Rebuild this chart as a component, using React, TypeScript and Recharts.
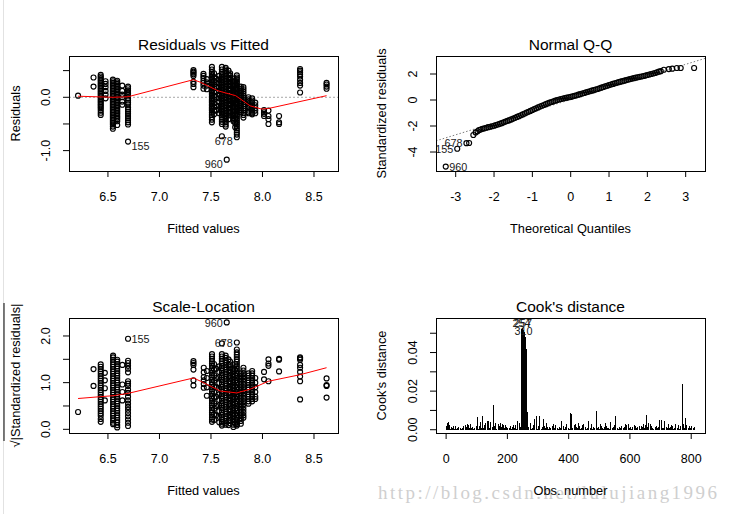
import React from "react";
import { Bar, ComposedChart, ReferenceLine, Scatter, XAxis, YAxis } from "recharts";

// ---- Residuals vs Fitted: one column of residuals per fitted value ----
const rvfFitted = [6.21, 6.36, 6.43, 6.477, 6.548, 6.59, 6.639, 6.695, 7.33, 7.427, 7.46, 7.509, 7.55, 7.606, 7.643, 7.686, 7.718, 7.751, 7.79, 7.815, 7.864, 7.9, 7.93, 8.015, 8.058, 8.161, 8.365, 8.622, 7.53, 7.58, 7.67, 7.735];
const rvfResid = [
  [0.03],
  [0.37, 0.2],
  [0.42, 0.39, 0.36, 0.33, 0.3, 0.27, 0.24, 0.21, 0.18, 0.15, 0.12, 0.09, 0.06, 0.03, 0, -0.03, -0.06, -0.09, -0.12, -0.15, -0.18, -0.21, -0.25, -0.29, -0.33],
  [0.3, 0.25, 0.19, 0.12, 0.05, -0.02],
  [0.33, 0.3, 0.27, 0.24, 0.21, 0.18, 0.15, 0.12, 0.09, 0.06, 0.03, 0, -0.03, -0.06, -0.09, -0.12, -0.15, -0.18, -0.21, -0.24, -0.27, -0.3, -0.33, -0.36, -0.39, -0.42, -0.45, -0.48, -0.51, -0.55, -0.59],
  [0.31, 0.28, 0.25, 0.22, 0.19, 0.16, 0.13, 0.1, 0.07, 0.04, 0.01, -0.02, -0.05, -0.08, -0.11, -0.14, -0.17, -0.2, -0.23, -0.26, -0.29, -0.32, -0.35, -0.38, -0.41, -0.45, -0.52],
  [0.22, 0.12, 0.05, 0, -0.08, -0.14],
  [0.2, 0.17, 0.13, 0.1, 0.07, 0.04, -0.02, -0.06, -0.1, -0.13, -0.19, -0.23, -0.27, -0.31, -0.35, -0.39, -0.43, -0.47, -0.51],
  [0.51, 0.48, 0.46, 0.43, 0.4, 0.29, 0.25, 0.19],
  [0.44, 0.4, 0.36, 0.31, 0.27, 0.22, 0.16],
  [0.34, 0.28, 0.22, 0.15],
  [0.57, 0.52, 0.47, 0.44, 0.41, 0.38, 0.35, 0.32, 0.29, 0.26, 0.23, 0.2, 0.17, 0.14, 0.11, 0.08, 0.05, 0.02, -0.01, -0.04, -0.07, -0.1, -0.13, -0.16, -0.19, -0.22, -0.25, -0.29, -0.33, -0.37, -0.42, -0.47],
  [0.35, 0.28, 0.2, 0.1, 0, -0.15, -0.25],
  [0.57, 0.52, 0.47, 0.44, 0.41, 0.38, 0.35, 0.32, 0.29, 0.26, 0.23, 0.2, 0.17, 0.14, 0.11, 0.08, 0.05, 0.02, -0.01, -0.04, -0.07, -0.1, -0.13, -0.16, -0.19, -0.22, -0.25, -0.28, -0.31, -0.34, -0.38, -0.42, -0.46, -0.5, -0.73],
  [0.55, 0.52, 0.49, 0.46, 0.43, 0.4, 0.37, 0.34, 0.31, 0.28, 0.25, 0.22, 0.19, 0.16, 0.13, 0.1, 0.07, 0.04, 0.01, -0.02, -0.05, -0.08, -0.11, -0.14, -0.17, -0.2, -0.23, -0.26, -0.29, -0.32, -0.35, -0.38, -0.41, -0.44, -0.47, -0.51, -0.55],
  [0.45, 0.41, 0.37, 0.33, 0.29, 0.25, 0.21, 0.17, 0.13, 0.09, 0.05, 0.01, -0.03, -0.07, -0.11, -0.15, -0.19, -0.23, -0.27, -0.3],
  [0.35, 0.31, 0.28, 0.24, 0.21, 0.17, 0.14, 0.1, 0.07, 0.03, 0, -0.04, -0.07, -0.11, -0.14, -0.18, -0.21, -0.25, -0.28, -0.32, -0.35, -0.39, -0.42, -0.45],
  [0.41, 0.37, 0.34, 0.3, 0.27, 0.23, 0.2, 0.16, 0.13, 0.09, 0.06, 0.02, -0.01, -0.05, -0.08, -0.12, -0.15, -0.19, -0.22, -0.26, -0.29, -0.33, -0.36, -0.4, -0.43, -0.47, -0.5, -0.54, -0.58, -0.62, -0.66, -0.7],
  [0.2, 0.16, 0.12, 0.08, 0.04, 0, -0.04, -0.08, -0.12, -0.16, -0.2, -0.24, -0.28],
  [0.19, 0.15, 0.11, 0.07, 0.03, -0.01, -0.05, -0.09, -0.13, -0.17, -0.21, -0.25, -0.29, -0.33, -0.38],
  [0, -0.04, -0.07, -0.11, -0.14, -0.18, -0.21, -0.25, -0.28, -0.3],
  [-0.02, -0.06, -0.09, -0.13, -0.16, -0.2, -0.23, -0.27, -0.3, -0.32],
  [-0.1, -0.15, -0.2, -0.25, -0.3],
  [-0.24, -0.28, -0.31, -0.35],
  [-0.25, -0.35, -0.41, -0.5],
  [-0.35, -0.47, -0.5],
  [0.53, 0.5, 0.47, 0.43, 0.39, 0.33, 0.27, 0.22, 0.09],
  [0.27, 0.24, 0.2, 0.16],
  [0.45, 0.38, 0.31, 0.24, 0.17, 0.1, 0.03, -0.04, -0.11, -0.18, -0.25, -0.32],
  [0.4, 0.33, 0.26, 0.19, 0.12, 0.05, -0.02, -0.09, -0.16, -0.23, -0.3],
  [0.5, 0.43, 0.36, 0.29, 0.22, 0.15, 0.08, 0.01, -0.06, -0.13, -0.2, -0.27, -0.34, -0.41],
  [0.3, 0.23, 0.16, 0.09, 0.02, -0.05, -0.12, -0.19, -0.26, -0.33, -0.4, -0.48, -0.56],
];
const rvfSmoothX = [6.21, 6.55, 6.695, 7.33, 7.4, 7.57, 7.74, 7.88, 7.99, 8.058, 8.622];
const rvfSmoothY = [0.02, 0, 0.01, 0.33, 0.28, 0.12, 0.03, -0.16, -0.22, -0.21, 0.03];

// labelled observations
const outlierIds = ["155", "678", "960"];
const rvfOutX = [6.695, 7.751, 7.653];
const rvfOutY = [-0.83, -0.75, -1.17];

// ---- Scale-Location ----
const slFitted = [6.21, 6.36, 6.43, 6.47, 6.55, 6.59, 6.64, 6.695, 7.33, 7.43, 7.46, 7.51, 7.55, 7.606, 7.643, 7.686, 7.718, 7.751, 7.79, 7.815, 7.864, 7.9, 7.93, 8.015, 8.058, 8.161, 8.365, 8.622, 7.53, 7.58, 7.67, 7.735];
const slRoot = [
  [0.37],
  [1.29, 0.93],
  [1.39, 1.34, 1.29, 1.24, 1.19, 1.14, 1.09, 1.04, 0.99, 0.94, 0.89, 0.84, 0.79, 0.74, 0.69, 0.64, 0.59, 0.54, 0.49, 0.44, 0.39, 0.34, 0.29, 0.22, 0.16],
  [1.21, 1.05, 0.88, 0.62],
  [1.58, 1.54, 1.49, 1.44, 1.39, 1.34, 1.29, 1.24, 1.19, 1.14, 1.09, 1.04, 0.99, 0.94, 0.89, 0.84, 0.79, 0.74, 0.69, 0.64, 0.59, 0.54, 0.49, 0.44, 0.39, 0.34, 0.29, 0.24, 0.19, 0.14, 0.11],
  [1.49, 1.45, 1.4, 1.35, 1.3, 1.25, 1.2, 1.15, 1.1, 1.05, 1, 0.95, 0.9, 0.85, 0.8, 0.75, 0.7, 0.65, 0.6, 0.55, 0.5, 0.45, 0.4, 0.35, 0.3, 0.25, 0.2, 0.15, 0.09, 0.04],
  [1.38, 0.96, 0.8, 0.62],
  [1.47, 1.42, 1.36, 1.3, 1.22, 1.03, 0.98, 0.93, 0.85, 0.78, 0.7, 0.62, 0.55, 0.48, 0.42, 0.35, 0.28, 0.21, 0.14, 0.07],
  [1.46, 1.42, 1.38, 1.28, 1.05, 0.94],
  [1.32, 1.22, 1.12, 1.05, 0.97, 0.89],
  [1.25, 1.1, 0.9, 0.72],
  [1.61, 1.56, 1.51, 1.46, 1.41, 1.36, 1.31, 1.26, 1.21, 1.16, 1.11, 1.06, 1.01, 0.96, 0.91, 0.86, 0.81, 0.76, 0.71, 0.66, 0.61, 0.56, 0.51, 0.46, 0.41, 0.36, 0.31, 0.26, 0.21, 0.16],
  [1.3, 1.1, 0.9, 0.7, 0.5, 0.3],
  [1.84, 1.61, 1.56, 1.51, 1.46, 1.41, 1.36, 1.31, 1.26, 1.21, 1.16, 1.11, 1.06, 1.01, 0.96, 0.91, 0.86, 0.81, 0.76, 0.71, 0.66, 0.61, 0.56, 0.51, 0.46, 0.41, 0.36, 0.31, 0.26, 0.21, 0.16, 0.12, 0.08],
  [1.58, 1.53, 1.48, 1.43, 1.38, 1.33, 1.28, 1.23, 1.18, 1.13, 1.08, 1.03, 0.98, 0.93, 0.88, 0.83, 0.78, 0.73, 0.68, 0.63, 0.58, 0.53, 0.48, 0.43, 0.38, 0.33, 0.28, 0.23, 0.18, 0.14, 0.1],
  [1.45, 1.39, 1.33, 1.27, 1.21, 1.15, 1.09, 1.03, 0.97, 0.91, 0.85, 0.79, 0.73, 0.67, 0.61, 0.55, 0.49, 0.43, 0.37, 0.31, 0.25, 0.19, 0.13],
  [1.3, 1.24, 1.18, 1.12, 1.06, 1, 0.94, 0.88, 0.82, 0.76, 0.7, 0.64, 0.58, 0.52, 0.46, 0.4, 0.34, 0.28, 0.22, 0.16, 0.1, 0.05],
  [1.71, 1.65, 1.6, 1.55, 1.5, 1.45, 1.4, 1.35, 1.3, 1.25, 1.2, 1.15, 1.1, 1.05, 1, 0.95, 0.9, 0.85, 0.8, 0.75, 0.7, 0.65, 0.6, 0.55, 0.5, 0.45, 0.4, 0.35, 0.3, 0.25, 0.2, 0.15, 0.11, 0.08],
  [1.2, 1.14, 1.08, 1.02, 0.96, 0.9, 0.84, 0.78, 0.72, 0.66, 0.6, 0.54, 0.48, 0.42, 0.36, 0.3, 0.24, 0.18, 0.12],
  [1.32, 1.26, 1.2, 1.14, 1.08, 1.02, 0.96, 0.9, 0.84, 0.78, 0.72, 0.66, 0.6, 0.54, 0.48, 0.42, 0.36, 0.3, 0.25],
  [1.2, 1.15, 1.1, 1.05, 1, 0.95, 0.9, 0.85, 0.8, 0.75, 0.7, 0.65, 0.6, 0.55],
  [1.25, 1.2, 1.15, 1.1, 1.05, 1, 0.95, 0.9, 0.85, 0.8, 0.75, 0.7, 0.65, 0.6],
  [1.1, 1, 0.9, 0.8, 0.7, 0.65],
  [1.23, 1.07],
  [1.5, 1.41, 1.36, 1.03],
  [1.51, 1.49, 1.24],
  [1.54, 1.52, 1.49, 1.38, 1.32, 1.23, 1.13, 1.03, 0.64],
  [1.09, 0.95, 0.93, 0.68],
  [1.4, 1.28, 1.16, 1.04, 0.92, 0.8, 0.68, 0.56, 0.44, 0.32, 0.2],
  [1.35, 1.23, 1.11, 0.99, 0.87, 0.75, 0.63, 0.51, 0.39, 0.27, 0.15],
  [1.5, 1.38, 1.26, 1.14, 1.02, 0.9, 0.78, 0.66, 0.54, 0.42, 0.3, 0.18, 0.09],
  [1.4, 1.28, 1.16, 1.04, 0.92, 0.8, 0.68, 0.56, 0.44, 0.32, 0.2, 0.12],
];
const slSmoothX = [6.21, 6.43, 6.55, 6.695, 7.33, 7.4, 7.59, 7.75, 7.88, 8.058, 8.365, 8.622];
const slSmoothY = [0.66, 0.7, 0.72, 0.77, 1.1, 1.03, 0.82, 0.78, 0.86, 1.03, 1.17, 1.32];
const slOutX = [6.695, 7.751, 7.653];
const slOutY = [1.94, 1.86, 2.29];

// ---- Normal Q-Q: [theoretical quantile, standardized residual] ----
const qqPoints: [number, number][] = [
  [-2.65, -3.31], [-2.54, -2.69], [-2.48, -2.49], [-2.43, -2.4], [-2.39, -2.31],
  [-2.35, -2.27], [-2.3, -2.22], [-2.25, -2.18], [-2.2, -2.13], [-2.15, -2.09], [-2.1, -2.06], [-2.05, -2.02], [-2.0, -1.98],
  [-1.95, -1.93], [-1.9, -1.88], [-1.85, -1.83], [-1.8, -1.78], [-1.75, -1.72], [-1.7, -1.66], [-1.65, -1.61], [-1.6, -1.55],
  [-1.55, -1.49], [-1.5, -1.43], [-1.45, -1.37], [-1.4, -1.3], [-1.35, -1.24], [-1.3, -1.17], [-1.25, -1.11], [-1.2, -1.04],
  [-1.15, -0.97], [-1.1, -0.9], [-1.05, -0.84], [-1.0, -0.77], [-0.95, -0.7], [-0.9, -0.64], [-0.85, -0.57], [-0.8, -0.5],
  [-0.75, -0.44], [-0.7, -0.38], [-0.65, -0.32], [-0.6, -0.26], [-0.55, -0.2], [-0.5, -0.15], [-0.45, -0.1], [-0.4, -0.05],
  [-0.35, 0.0], [-0.3, 0.04], [-0.25, 0.08], [-0.2, 0.12], [-0.15, 0.15], [-0.1, 0.18], [-0.05, 0.21], [0.0, 0.24],
  [0.05, 0.28], [0.1, 0.32], [0.15, 0.36], [0.2, 0.41], [0.25, 0.45], [0.3, 0.5], [0.35, 0.54], [0.4, 0.59],
  [0.45, 0.63], [0.5, 0.67], [0.55, 0.72], [0.6, 0.76], [0.65, 0.81], [0.7, 0.85], [0.75, 0.9], [0.8, 0.95],
  [0.85, 1.0], [0.9, 1.05], [0.95, 1.1], [1.0, 1.15], [1.05, 1.19], [1.1, 1.24], [1.15, 1.28], [1.2, 1.33],
  [1.25, 1.37], [1.3, 1.41], [1.35, 1.45], [1.4, 1.49], [1.45, 1.53], [1.5, 1.57], [1.55, 1.61], [1.6, 1.65],
  [1.65, 1.68], [1.7, 1.72], [1.75, 1.75], [1.8, 1.78], [1.85, 1.81], [1.9, 1.85], [1.95, 1.88], [2.0, 1.92],
  [2.05, 1.96], [2.1, 2.0], [2.15, 2.04], [2.2, 2.08], [2.25, 2.13], [2.3, 2.18], [2.35, 2.22],
  [2.43, 2.33], [2.56, 2.38], [2.65, 2.41], [2.77, 2.46], [2.87, 2.46], [3.22, 2.46],
];
const qqLineQ = [-3.514, 3.504];
const qqLineS = [-3.14, 3.2];
const qqOutIds = ["960", "155", "678"];
const qqOutQ = [-3.26, -2.96, -2.72];
const qqOutS = [-5.12, -3.75, -3.32];

// ---- Cook's distance ----
// small background values (x 0.001), every 4th observation starting at obs 2
const cookBaseMilli = [
  1.8, 2.6, 1.1, 0.6, 1.4, 0.9, 0.5, 1.2, 0.4, 0.8, 1.6, 0.7, 0.3, 1.0, 1.9, 0.6, 1.3, 0.5, 2.2, 1.1,
  0.7, 1.5, 0.4, 0.9, 2.0, 1.2, 0.6, 1.7, 0.8, 0.5, 1.1, 2.3, 0.9, 0.4, 1.6, 1.0, 0.6, 1.4, 0.7, 2.1,
  1.3, 0.5, 0.9, 1.8, 0.6, 1.2, 2.4, 0.8, 0.4, 1.5, 1.0, 0.7, 1.9, 0.5, 1.3, 0.9, 2.2, 0.6, 1.1, 0.8,
  1.6, 0.4, 1.0, 2.0, 0.7, 1.4, 0.5, 1.2, 1.8, 0.6, 0.9, 2.5, 0.8, 1.3, 0.5, 1.7, 1.0, 0.6, 1.5, 0.9,
  2.1, 0.7, 1.2, 0.5, 1.6, 0.9, 1.9, 0.6, 1.1, 2.3, 0.8, 0.4, 1.4, 1.0, 0.7, 1.8, 0.5, 1.2, 2.0, 0.9,
  0.6, 1.5, 1.1, 0.8, 2.2, 0.5, 1.3, 0.9, 1.7, 0.6, 1.0, 2.4, 0.7, 1.4, 0.5, 1.1, 1.9, 0.8, 1.2, 0.6,
  1.6, 0.9, 2.0, 0.7, 1.3, 0.5, 1.8, 1.0, 0.6, 1.4, 2.1, 0.8, 1.1, 0.5, 1.7, 0.9, 1.3, 2.3, 0.7, 1.0,
  0.6, 1.5, 0.9, 1.9, 0.7, 1.2, 0.5, 2.2, 1.0, 0.8, 1.6, 0.6, 1.3, 1.1, 2.0, 0.7, 1.4, 0.9, 0.5, 1.8,
  1.2, 0.8, 2.4, 0.6, 1.5, 1.0, 0.7, 1.9, 1.1, 0.5, 1.4, 2.1, 0.9, 1.3, 0.6, 1.7, 1.0, 0.8, 2.2, 1.2,
  0.7, 1.6, 0.9, 1.3, 2.0, 0.6, 1.1, 1.8, 0.8, 1.4, 0.5, 1.9, 1.0, 2.3, 0.7, 1.2, 1.5, 0.9, 1.7, 1.1,
  1.4, 0.8, 1.6,
];
const cookSpikes: [number, number][] = [
  [6, 0.0036], [9, 0.0038], [12, 0.0026], [23, 0.002], [30, 0.002], [63, 0.0026], [69, 0.003], [80, 0.003],
  [101, 0.0067], [112, 0.0038], [119, 0.007], [128, 0.0036], [134, 0.0045], [139, 0.0043], [145, 0.0038],
  [154, 0.0126], [161, 0.0036], [172, 0.003], [178, 0.0036], [183, 0.003], [194, 0.0026], [221, 0.0026],
  [232, 0.0045], [241, 0.0036], [245, 0.0088],
  [246, 0.0518], [247, 0.0521], [248, 0.0524], [249, 0.0526], [250, 0.0523], [251, 0.052], [252, 0.0517],
  [253, 0.0514], [254, 0.051], [255, 0.0507], [256, 0.0484], [257, 0.0483], [258, 0.0481], [259, 0.048],
  [260, 0.0419], [261, 0.0418], [262, 0.0417], [263, 0.0416], [264, 0.0415], [265, 0.0093], [266, 0.009],
  [277, 0.0036], [288, 0.0054], [296, 0.0071], [305, 0.0071], [318, 0.0054], [327, 0.0036], [351, 0.0028],
  [378, 0.0045], [392, 0.003], [405, 0.0085], [408, 0.0083], [421, 0.003], [432, 0.0036], [448, 0.0028],
  [465, 0.0045], [476, 0.003], [490, 0.0097], [505, 0.0028], [520, 0.0036], [536, 0.004], [552, 0.0071],
  [584, 0.0031], [595, 0.0031], [614, 0.0026], [630, 0.002], [644, 0.003], [655, 0.0076], [660, 0.0036],
  [666, 0.003], [695, 0.005], [702, 0.005], [713, 0.0045], [726, 0.003], [737, 0.0026], [748, 0.003],
  [759, 0.0026], [771, 0.0235], [774, 0.003], [780, 0.0062], [785, 0.0026], [802, 0.002],
];
const cookLabelIds = ["254", "257", "310"];
const cookLabelObs = [246, 251, 253];
const cookLabelD = [0.0552, 0.0552, 0.0513];

// ---- tick values ----
const fittedTicks = [6.5, 7.0, 7.5, 8.0, 8.5];
const fittedLabels = ["6.5", "7.0", "7.5", "8.0", "8.5"];
const rvfTicksY = [-1, -0.5, 0, 0.5];
const rvfLabelsY = ["-1.0", "", "0.0", ""];
const qqTicksX = [-3, -2, -1, 0, 1, 2, 3];
const qqTicksY = [-4, -2, 0, 2];
const qqLabelsY = ["-4", "-2", "0", "2"];
const slTicksY = [0, 0.5, 1, 1.5, 2];
const slLabelsY = ["0.0", "", "1.0", "", "2.0"];
const cookTicksX = [0, 200, 400, 600, 800];
const cookTicksY = [0, 0.01, 0.02, 0.03, 0.04, 0.05];
const cookLabelsY = ["0.00", "", "0.02", "", "0.04", ""];

const FONT = '"Liberation Sans", Arial, sans-serif';

const columnPoints = (xs: number[], ys: number[][]) => xs.flatMap((x, i) => ys[i].map((y) => ({ x, y })));
const zipPoints = (xs: number[], ys: number[]) => xs.map((x, i) => ({ x, y: ys[i] }));
const withIds = (xs: number[], ys: number[], ids: string[]) => xs.map((x, i) => ({ x, y: ys[i], id: ids[i] }));

const rvfData = columnPoints(rvfFitted, rvfResid);
const slData = columnPoints(slFitted, slRoot);
const qqData = qqPoints.map(([x, y]) => ({ x, y }));
const cookData = [
  ...cookBaseMilli.map((v, i) => ({ obs: 2 + 4 * i, d: v / 1000 })),
  ...cookSpikes.map(([obs, d]) => ({ obs, d })),
].sort((a, b) => a.obs - b.obs);

const R = 2.5;
const SW = 1.15;
const Circle = (p: any) => <circle cx={p.cx} cy={p.cy} r={R} fill="none" stroke="#000" strokeWidth={SW} />;
const NoShape = () => <g />;

// crisp 1px vertical line per observation, like type = "h"
const Spike = (p: any) => {
  if (!p.height || p.height <= 0) return <g />;
  return <rect x={Math.round(p.x + p.width / 2 - 0.5)} y={p.y} width={1} height={p.height} fill="#000" shapeRendering="crispEdges" />;
};

// a circle plus its observation label, to one side like plot.lm does
const labelled = (side: (id: string) => "left" | "right", dy: number) => (p: any) => {
  const s = side(p.payload.id);
  const dx = s === "right" ? 3.5 : -4;
  return (
    <g>
      <circle cx={p.cx} cy={p.cy} r={R} fill="none" stroke="#000" strokeWidth={SW} />
      <text x={p.cx + dx} y={p.cy + dy} textAnchor={s === "right" ? "start" : "end"} fontSize={10.8} fontFamily={FONT} fill="#1a1a1a">
        {p.payload.id}
      </text>
    </g>
  );
};

const xTick = (ticks: number[], labels?: string[]) => (p: any) => {
  const { x, y, payload } = p;
  const i = ticks.indexOf(payload.value);
  const s = labels && i >= 0 ? labels[i] : String(payload.value);
  return (
    <g>
      <line x1={x} x2={x} y1={y} y2={y + 6} stroke="#000" />
      <text x={x} y={y + 30} textAnchor="middle" fontSize={12.5} fontFamily={FONT} fill="#000">
        {s}
      </text>
    </g>
  );
};

const yTick = (ticks: number[], labels: string[]) => (p: any) => {
  const { x, y, payload } = p;
  const s = labels[ticks.indexOf(payload.value)];
  const tx = x - 19;
  return (
    <g>
      <line x1={x - 6} x2={x} y1={y} y2={y} stroke="#000" />
      {s ? (
        <text x={tx} y={y} transform={`rotate(-90 ${tx} ${y})`} textAnchor="middle" fontSize={12.5} fontFamily={FONT} fill="#000">
          {s}
        </text>
      ) : null}
    </g>
  );
};

type Box = { x: number; y: number; w: number; h: number };

function Panel(props: {
  left: number;
  top: number;
  box: Box;
  data?: any[];
  xKey: string;
  yKey: string;
  xDomain: number[];
  yDomain: number[];
  xTicks: number[];
  yTicks: number[];
  xLabels?: string[];
  yLabels: string[];
  children: React.ReactNode;
}) {
  const W = 364;
  const H = 257;
  const { left, top, box } = props;
  const margin = {
    left: box.x - left - 1,
    top: box.y - top,
    right: left + W - (box.x + box.w),
    bottom: top + H - (box.y + box.h) - 1,
  };
  return (
    <>
      <div style={{ position: "absolute", left, top }}>
        <ComposedChart width={W} height={H} data={props.data} margin={margin}>
          <XAxis
            type="number"
            dataKey={props.xKey}
            domain={props.xDomain}
            allowDataOverflow
            ticks={props.xTicks}
            interval={0}
            height={1}
            axisLine={false}
            tickLine={false}
            tickSize={0}
            tickMargin={0}
            tick={xTick(props.xTicks, props.xLabels)}
          />
          <YAxis
            type="number"
            dataKey={props.yKey}
            domain={props.yDomain}
            allowDataOverflow
            ticks={props.yTicks}
            interval={0}
            width={1}
            axisLine={false}
            tickLine={false}
            tickSize={0}
            tickMargin={0}
            tick={yTick(props.yTicks, props.yLabels)}
          />
          {props.children}
        </ComposedChart>
      </div>
      <div
        style={{
          position: "absolute",
          left: box.x,
          top: box.y,
          width: box.w + 1,
          height: box.h + 1,
          border: "1px solid #000",
          boxSizing: "border-box",
          pointerEvents: "none",
        }}
      />
    </>
  );
}

const T = (p: { x: number; y: number; size: number; rotate?: boolean; children: React.ReactNode }) => (
  <text
    x={p.x}
    y={p.y}
    textAnchor="middle"
    fontSize={p.size}
    fontFamily={FONT}
    fill="#000"
    transform={p.rotate ? `rotate(-90 ${p.x} ${p.y})` : undefined}
  >
    {p.children}
  </text>
);

export default function App() {
  const boxRvf = { x: 69, y: 56, w: 269, h: 115 };
  const boxQq = { x: 436, y: 56, w: 269, h: 115 };
  const boxSl = { x: 69, y: 318, w: 269, h: 115 };
  const boxCook = { x: 436, y: 318, w: 269, h: 115 };
  const fittedDomain = [6.122, 8.733];

  return (
    <div style={{ position: "absolute", left: 0, top: 0, width: 729, height: 514, background: "#fff", overflow: "hidden" }}>
      <div style={{ position: "absolute", left: 3, top: 0, width: 1, height: 514, background: "#e2e2e2" }} />

      {/* Residuals vs Fitted */}
      <Panel left={0} top={0} box={boxRvf} xKey="x" yKey="y" xDomain={fittedDomain} yDomain={[-1.382, 0.774]}
        xTicks={fittedTicks} yTicks={rvfTicksY} xLabels={fittedLabels} yLabels={rvfLabelsY}>
        <ReferenceLine y={0} stroke="#a8a8a8" strokeDasharray="2 2" />
        <Scatter data={rvfData} shape={Circle} isAnimationActive={false} />
        <Scatter data={withIds(rvfOutX, rvfOutY, outlierIds)} shape={labelled((id) => (id === "155" ? "right" : "left"), 8.2)} isAnimationActive={false} />
        <Scatter data={zipPoints(rvfSmoothX, rvfSmoothY)} line={{ stroke: "#ff0000", strokeWidth: 1 }} shape={NoShape} isAnimationActive={false} />
      </Panel>

      {/* Normal Q-Q */}
      <Panel left={365} top={0} box={boxQq} xKey="x" yKey="y" xDomain={[-3.514, 3.504]} yDomain={[-5.46, 3.385]}
        xTicks={qqTicksX} yTicks={qqTicksY} yLabels={qqLabelsY}>
        <Scatter data={zipPoints(qqLineQ, qqLineS)} line={{ stroke: "#7a7a7a", strokeWidth: 1, strokeDasharray: "1.5 2" }} shape={NoShape} isAnimationActive={false} />
        <Scatter data={qqData} shape={Circle} isAnimationActive={false} />
        <Scatter data={withIds(qqOutQ, qqOutS, qqOutIds)} shape={labelled((id) => (id === "960" ? "right" : "left"), 4)} isAnimationActive={false} />
      </Panel>

      {/* Scale-Location */}
      <Panel left={0} top={257} box={boxSl} xKey="x" yKey="y" xDomain={fittedDomain} yDomain={[-0.079, 2.385]}
        xTicks={fittedTicks} yTicks={slTicksY} xLabels={fittedLabels} yLabels={slLabelsY}>
        <Scatter data={slData} shape={Circle} isAnimationActive={false} />
        <Scatter data={withIds(slOutX, slOutY, outlierIds)} shape={labelled((id) => (id === "155" ? "right" : "left"), 4.5)} isAnimationActive={false} />
        <Scatter data={zipPoints(slSmoothX, slSmoothY)} line={{ stroke: "#ff0000", strokeWidth: 1 }} shape={NoShape} isAnimationActive={false} />
      </Panel>

      {/* Cook's distance */}
      <Panel left={365} top={257} box={boxCook} data={cookData} xKey="obs" yKey="d" xDomain={[-33, 845]} yDomain={[-0.0017, 0.0579]}
        xTicks={cookTicksX} yTicks={cookTicksY} yLabels={cookLabelsY}>
        <Bar dataKey="d" fill="#000" barSize={1} shape={Spike} isAnimationActive={false} />
        <Scatter
          data={cookLabelObs.map((obs, i) => ({ obs, d: cookLabelD[i], id: cookLabelIds[i] }))}
          shape={(p: any) => (
            <text x={p.cx} y={p.cy + 4} textAnchor="middle" fontSize={10.8} fontFamily={FONT} fill="#1a1a1a">
              {p.payload.id}
            </text>
          )}
          isAnimationActive={false}
        />
      </Panel>

      <svg width={729} height={514} style={{ position: "absolute", left: 0, top: 0, pointerEvents: "none" }}>
        <text x={378} y={499} textLength={339} lengthAdjust="spacing" fontSize={19} fontFamily='"Liberation Serif", serif' fill="#cfcfcf">
          http://blog.csdn.net/lulujiang1996
        </text>

        <T x={203.5} y={49.5} size={15.5}>Residuals vs Fitted</T>
        <T x={570.5} y={49.5} size={15.5}>Normal Q-Q</T>
        <T x={203.5} y={311.5} size={15.5}>Scale-Location</T>
        <T x={570.5} y={311.5} size={15.5}>Cook's distance</T>

        <T x={203.5} y={233.3} size={12.8}>Fitted values</T>
        <T x={570.5} y={233.3} size={12.8}>Theoretical Quantiles</T>
        <T x={203.5} y={494.6} size={12.8}>Fitted values</T>
        <T x={570.5} y={494.6} size={12.8}>Obs. number</T>

        <T x={19.5} y={113.5} size={12.8} rotate>Residuals</T>
        <T x={386} y={113.5} size={12.8} rotate>Standardized residuals</T>
        <T x={19.5} y={375.5} size={12.8} rotate>√|Standardized residuals|</T>
        <line x1={4} x2={4} y1={303} y2={441} stroke="#000" />
        <T x={386} y={375.5} size={12.8} rotate>Cook's distance</T>
      </svg>
    </div>
  );
}
